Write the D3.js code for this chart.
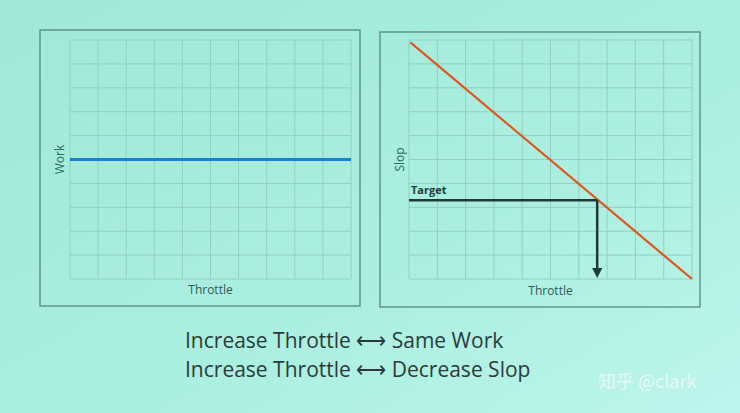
<!DOCTYPE html>
<html><head><meta charset="utf-8">
<script src="https://cdn.jsdelivr.net/npm/d3@7"></script>
<style>body{margin:0;overflow:hidden}</style>
</head><body>
<svg id="c" width="740" height="413"></svg>
<script>
// chart values
const gridTicks = d3.range(0, 11);          // 10 x 10 grid
const workLine = [[0, 5], [10, 5]];         // flat work
const slopLine = [[0.05, 9.9], [10, 0]];    // decreasing slop
const target = 3.3;
const targetThrottle = 6.65;
const captions = ["Increase Throttle \u27F7 Same Work", "Increase Throttle \u27F7 Decrease Slop"];

const svg = d3.select('#c');
const defs = svg.append('defs');
const bg = defs.append('linearGradient').attr('id', 'bg').attr('x1', 0).attr('x2', 1).attr('y1', 0).attr('y2', 1);
bg.append('stop').attr('offset', 0).attr('stop-color', '#a0e8d6');
bg.append('stop').attr('offset', 0.6).attr('stop-color', '#abefe0');
bg.append('stop').attr('offset', 1).attr('stop-color', '#bdf5ec');
svg.append('rect').attr('width', 740).attr('height', 413).attr('fill', 'url(#bg)');

defs.append('marker').attr('id', 'arr').attr('viewBox', '0 0 10 10').attr('refX', 5).attr('refY', 5)
  .attr('markerWidth', 4).attr('markerHeight', 4).attr('orient', 'auto')
  .append('path').attr('d', 'M0,0L10,5L0,10Z').attr('fill', '#1e3a34');

function panel(box, plot, yLabel) {
  svg.append('rect').attr('x', box.x).attr('y', box.y).attr('width', box.w).attr('height', box.h)
    .attr('fill', 'none').attr('stroke', '#4f7f78').attr('stroke-width', 1.2);
  const x = d3.scaleLinear().domain([0, 10]).range([plot.x0, plot.x1]);
  const y = d3.scaleLinear().domain([0, 10]).range([plot.y1, plot.y0]);
  const g = svg.append('g');
  g.selectAll('.v').data(gridTicks).join('line')
    .attr('x1', d => x(d)).attr('x2', d => x(d)).attr('y1', y(0)).attr('y2', y(10))
    .attr('stroke', '#90d0c2').attr('stroke-width', 1);
  g.selectAll('.h').data(gridTicks).join('line')
    .attr('y1', d => y(d)).attr('y2', d => y(d)).attr('x1', x(0)).attr('x2', x(10))
    .attr('stroke', '#90d0c2').attr('stroke-width', 1);
  svg.append('text').attr('x', (plot.x0 + plot.x1) / 2).attr('y', box.y + box.h - 12)
    .attr('text-anchor', 'middle').attr('font-family', 'Open Sans, sans-serif').attr('font-size', 12)
    .attr('fill', '#2e5a55').text('Throttle');
  svg.append('text').attr('transform', `translate(${box.x + 24},${(plot.y0 + plot.y1) / 2}) rotate(-90)`)
    .attr('text-anchor', 'middle').attr('font-family', 'Open Sans, sans-serif').attr('font-size', 12)
    .attr('fill', '#2e6a64').text(yLabel);
  return {x, y};
}

const line = (s) => d3.line().x(d => s.x(d[0])).y(d => s.y(d[1]));

const L = panel({x: 40, y: 30, w: 320, h: 276}, {x0: 70, x1: 351, y0: 40, y1: 279}, 'Work');
svg.append('path').datum(workLine).attr('d', line(L)).attr('stroke', '#1b7fd6').attr('stroke-width', 3).attr('fill', 'none');

const R = panel({x: 380, y: 32, w: 320, h: 275}, {x0: 409, x1: 692, y0: 40, y1: 279}, 'Slop');
svg.append('path').datum(slopLine).attr('d', line(R)).attr('stroke', '#e0561c').attr('stroke-width', 2.2).attr('fill', 'none');
svg.append('path').datum([[0, target], [targetThrottle, target]]).attr('d', line(R))
  .attr('stroke', '#1e3a34').attr('stroke-width', 2.5).attr('fill', 'none');
svg.append('line').attr('x1', R.x(targetThrottle)).attr('x2', R.x(targetThrottle))
  .attr('y1', R.y(target)).attr('y2', R.y(0) - 6)
  .attr('stroke', '#1e3a34').attr('stroke-width', 2.5).attr('marker-end', 'url(#arr)');
svg.append('text').attr('x', R.x(0) + 2).attr('y', R.y(target) - 6)
  .attr('font-family', 'Open Sans, sans-serif').attr('font-weight', 'bold').attr('font-size', 11)
  .attr('fill', '#1e3a34').text('Target');

svg.selectAll('.cap').data(captions).join('text')
  .attr('x', 185).attr('y', (d, i) => 348 + i * 29)
  .attr('font-family', 'Open Sans, sans-serif').attr('font-size', 21).attr('fill', '#2a3a38')
  .text(d => d);

svg.append('text').attr('x', 598).attr('y', 388)
  .attr('font-family', 'Noto Sans CJK SC, sans-serif').attr('font-size', 18)
  .attr('fill', '#eefaf7').attr('opacity', 0.9).text('知乎 @clark');
</script>
</body></html>
